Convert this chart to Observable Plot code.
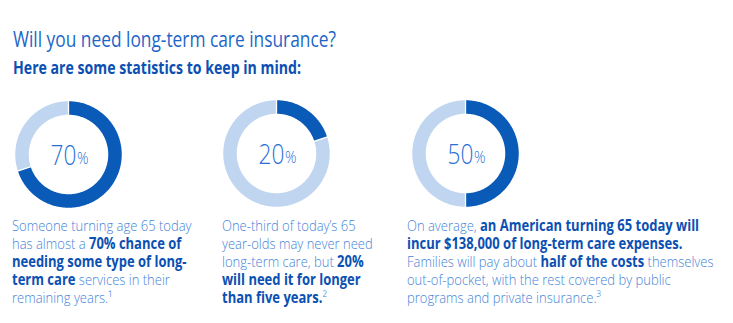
<!DOCTYPE html>
<html><head><meta charset="utf-8">
<script src="https://cdn.jsdelivr.net/npm/d3@7"></script>
<script src="https://cdn.jsdelivr.net/npm/@observablehq/plot@0.6"></script>
<style>
html,body{margin:0;padding:0;background:#fff;}
#root{position:relative;width:733px;height:323px;overflow:hidden;font-family:"Open Sans",sans-serif;}
.donut{position:absolute;}
#overlay{position:absolute;left:0;top:0;}
</style></head><body><div id="root"></div>
<script>
// ---- data ----
const title = "Will you need long-term care insurance?";
const subtitle = "Here are some statistics to keep in mind:";
const values = [70, 20, 50];
const valueLabels = ["70", "20", "50"];
const paragraphs = [
  ["Someone turning age 65 today", "has almost a **70% chance of**", "**needing some type of long-**", "**term care** services in their", "remaining years.¹"],
  ["One-third of today’s 65", "year-olds may never need", "long-term care, but **20%**", "**will need it for longer**", "**than five years.**²"],
  ["On average, **an American turning 65 today will**", "**incur $138,000 of long-term care expenses.**", "Families will pay about **half of the costs** themselves", "out-of-pocket, with the rest covered by public", "programs and private insurance.³"]
];

// ---- style ----
const DARK = "#0a5bb8", LIGHT = "#c0d5ef", NUM = "#2a6fd6";
const TXT = "#4684d8", BOLD = "#0b50b2", TITLE = "#1c66c8";
const centers = [[67.5, 153.5], [276, 153], [464.5, 153]];
const colX = [12, 222, 407];
const R = 46.5, RW = 13.5, SZ = 120;

const root = document.getElementById("root");

function arc(t0, t1) {
  const n = Math.max(2, Math.ceil((t1 - t0) * 400));
  return d3.range(n + 1).map(i => {
    const a = 2 * Math.PI * (t0 + (t1 - t0) * i / n);
    return {x: R * Math.sin(a), y: R * Math.cos(a)};
  });
}

values.forEach((v, i) => {
  const f = v / 100;
  const segs = [
    {pts: arc(0, f), color: DARK},
    {pts: arc(f, 1), color: LIGHT}
  ];
  const gaps = [0, f].map(t => ({
    x1: (R - RW) * Math.sin(2 * Math.PI * t), y1: (R - RW) * Math.cos(2 * Math.PI * t),
    x2: (R + RW) * Math.sin(2 * Math.PI * t), y2: (R + RW) * Math.cos(2 * Math.PI * t)
  }));
  const plot = Plot.plot({
    width: SZ, height: SZ, margin: 0,
    x: {domain: [-SZ / 2, SZ / 2], axis: null},
    y: {domain: [-SZ / 2, SZ / 2], axis: null},
    style: {background: "transparent", fontFamily: "'Open Sans', sans-serif"},
    marks: [
      ...segs.map(s => Plot.line(s.pts, {x: "x", y: "y", stroke: s.color, strokeWidth: RW, strokeLinecap: "butt", strokeLinejoin: "round"})),
      Plot.link(gaps, {x1: "x1", y1: "y1", x2: "x2", y2: "y2", stroke: "white", strokeWidth: 1.3}),
      Plot.text([valueLabels[i]], {text: d => d, frameAnchor: "middle", textAnchor: "end", lineAnchor: "bottom", dx: 8, dy: 10.5, fontSize: 27, fontWeight: 300, fill: NUM}),
      Plot.text(["%"], {text: d => d, frameAnchor: "middle", textAnchor: "start", lineAnchor: "bottom", dx: 8.5, dy: 9.5, fontSize: 17, fontWeight: 300, fill: NUM})
    ]
  });
  // condense the numeric labels horizontally around their anchor
  d3.select(plot).selectAll("text").each(function() {
    const tr = this.getAttribute("transform") || "";
    this.setAttribute("transform", tr + " scale(0.84,1)");
  });
  plot.classList.add("donut");
  plot.style.left = (centers[i][0] - SZ / 2) + "px";
  plot.style.top = (centers[i][1] - SZ / 2) + "px";
  root.appendChild(plot);
});

// ---- text overlay ----
const svg = d3.select(root).append("svg").attr("id", "overlay").attr("width", 733).attr("height", 323)
  .style("font-family", "'Open Sans', sans-serif");

function addLine(x, y, str, size, scale, regW, regColor) {
  const t = svg.append("text").attr("transform", `translate(${x},${y}) scale(${scale},1)`).attr("font-size", size);
  str.split("**").forEach((part, k) => {
    if (!part) return;
    const bold = k % 2 === 1;
    t.append("tspan").text(part)
      .attr("font-weight", bold ? 700 : regW)
      .attr("fill", bold ? BOLD : regColor);
  });
}
addLine(13, 47, title, 21, 0.825, 400, TITLE);
addLine(13, 74, "**" + subtitle + "**", 18, 0.785, 700, BOLD);
paragraphs.forEach((lines, c) => {
  lines.forEach((ln, j) => addLine(colX[c], 231 + j * 18, ln, 15.3, 0.85, 300, TXT));
});
</script></body></html>
